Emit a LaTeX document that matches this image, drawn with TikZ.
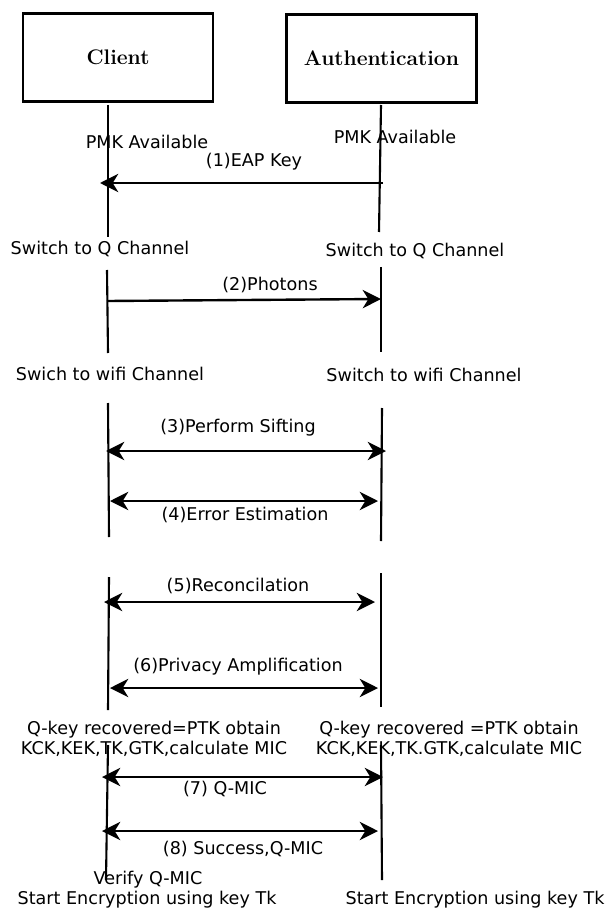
\documentclass[tikz,border=0pt]{standalone}
\usepackage{fontspec}
\newfontfamily\msgfont{DejaVu Sans}
\usetikzlibrary{arrows.meta}
\tikzset{
  party/.style={draw,line width=2pt,minimum width=4.75cm,minimum height=2.2cm,font=\fontsize{15}{18}\selectfont\bfseries},
  lifeline/.style={line width=1.5pt},
  msg/.style={line width=1.7pt,-{Stealth[length=13pt,width=13pt,inset=4pt]}},
  dmsg/.style={line width=1.7pt,{Stealth[length=13pt,width=13pt,inset=4pt]}-{Stealth[length=13pt,width=13pt,inset=4pt]}},
  lbl/.style={font=\msgfont\fontsize{12.5}{14.5}\selectfont,inner sep=0pt,align=center}
}
\begin{document}
\begin{tikzpicture}[x=0.025cm,y=-0.025cm]
        \useasboundingbox (0,0) rectangle (609,911);%

        % Parties
        \node [party] (client) at (118,57.5) {Client};%
        \node [party] (auth) at (381.5,58.5) {Authentication};%

        % State labels, client side
        \node [lbl] (pmkC) at (147,142) {PMK Available};%
        \node [lbl] (qC) at (100,249) {Switch to Q Channel};%
        \node [lbl] (wifiC) at (110,374) {Swich to wifi Channel};%
        \node [lbl] (keyC) at (154,739) {Q-key recovered=PTK obtain\\KCK,KEK,TK,GTK,calculate MIC};%
        \node [lbl] (verC) at (148,880) {Verify Q-MIC};%
        \node [lbl] (encC) at (147,900) {Start Encryption using key Tk};%

        % State labels, authentication side
        \node [lbl] (pmkA) at (395,137) {PMK Available};%
        \node [lbl] (qA) at (415,251) {Switch to Q Channel};%
        \node [lbl] (wifiA) at (424,375) {Switch to wifi Channel};%
        \node [lbl] (keyA) at (449,739) {Q-key recovered =PTK obtain\\KCK,KEK,TK.GTK,calculate MIC};%
        \node [lbl] (encA) at (475,900) {Start Encryption using key Tk};%

        % Message labels
        \node [lbl] (eap) at (254,162) {(1)EAP Key};%
        \node [lbl] (pho) at (270,285) {(2)Photons};%
        \node [lbl] (sift) at (238,428) {(3)Perform Sifting};%
        \node [lbl] (err) at (245,515) {(4)Error Estimation};%
        \node [lbl] (rec) at (238,586) {(5)Reconcilation};%
        \node [lbl] (priv) at (238,667) {(6)Privacy Amplification};%
        \node [lbl] (qmic) at (225,789) {(7) Q-MIC};%
        \node [lbl] (succ) at (243,849) {(8) Success,Q-MIC};%

        % Lifeline end points
        \coordinate (c0) at (108,105);%
        \coordinate (c1) at (108,237);%
        \coordinate (c2) at (107,270);%
        \coordinate (c3) at (108,353);%
        \coordinate (c4) at (108,403);%
        \coordinate (c5) at (109,537);%
        \coordinate (c6) at (109,577);%
        \coordinate (c7) at (108,710);%
        \coordinate (c8) at (108,745);%
        \coordinate (c9) at (106,880);%
        \coordinate (a0) at (381,105);%
        \coordinate (a1) at (379,232);%
        \coordinate (a2) at (381,267);%
        \coordinate (a3) at (381,352);%
        \coordinate (a4) at (382,408);%
        \coordinate (a5) at (381,541);%
        \coordinate (a6) at (381,573);%
        \coordinate (a7) at (381,707);%
        \coordinate (a8) at (381,745);%
        \coordinate (a9) at (382,880);%

        % Drawing lifelines
        \draw [lifeline] (c0) -- (c1);%
        \draw [lifeline] (c2) -- (c3);%
        \draw [lifeline] (c4) -- (c5);%
        \draw [lifeline] (c6) -- (c7);%
        \draw [lifeline] (c8) -- (c9);%
        \draw [lifeline] (a0) -- (a1);%
        \draw [lifeline] (a2) -- (a3);%
        \draw [lifeline] (a4) -- (a5);%
        \draw [lifeline] (a6) -- (a7);%
        \draw [lifeline] (a8) -- (a9);%

        % Message end points
        \coordinate (m1a) at (383,183);  \coordinate (m1c) at (100,183);%
        \coordinate (m2c) at (107,301);  \coordinate (m2a) at (381,299);%
        \coordinate (m3c) at (106,451);  \coordinate (m3a) at (386,451);%
        \coordinate (m4c) at (110,501);  \coordinate (m4a) at (378,501);%
        \coordinate (m5c) at (104,602);  \coordinate (m5a) at (375,602);%
        \coordinate (m6c) at (110,688);  \coordinate (m6a) at (378,688);%
        \coordinate (m7c) at (102,777);  \coordinate (m7a) at (383,777);%
        \coordinate (m8c) at (102,831);  \coordinate (m8a) at (378,831);%

        % Drawing messages
        \draw [msg] (m1a) -- (m1c);%
        \draw [msg] (m2c) -- (m2a);%
        \draw [dmsg] (m3c) -- (m3a);%
        \draw [dmsg] (m4c) -- (m4a);%
        \draw [dmsg] (m5c) -- (m5a);%
        \draw [dmsg] (m6c) -- (m6a);%
        \draw [dmsg] (m7c) -- (m7a);%
        \draw [dmsg] (m8c) -- (m8a);%
\end{tikzpicture}
\end{document}
